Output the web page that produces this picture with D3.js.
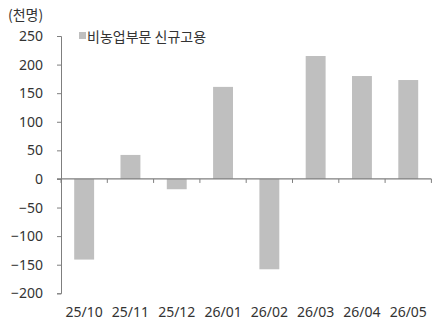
<!DOCTYPE html>
<html><head><meta charset="utf-8">
<script src="https://cdn.jsdelivr.net/npm/d3@7"></script>
<style>
html,body{margin:0;padding:0;background:#fff;}
svg{display:block;font-family:"Noto Sans","Noto Sans CJK KR",sans-serif;}
</style></head>
<body>
<svg id="c" width="432" height="321"></svg>
<script>
const categories = ["25/10","25/11","25/12","26/01","26/02","26/03","26/04","26/05"];
const values = [-141, 42, -18, 161, -158, 215, 180, 173];
const yTicks = [250, 200, 150, 100, 50, 0, -50, -100, -150, -200];
const seriesName = "비농업부문 신규고용";
const unitLabel = "(천명)";

const svg = d3.select("#c");
const plotLeft = 61, plotRight = 431.4, plotTop = 36, plotBottom = 293.3;

const y = d3.scaleLinear().domain([-200, 250]).range([plotBottom, plotTop]);
const x = d3.scaleBand().domain(categories).range([plotLeft, plotRight])
  .paddingInner(0.57).paddingOuter(0.285);
const step = x.step();

// bars
svg.append("g").selectAll("rect").data(values).join("rect")
  .attr("x", (d, i) => x(categories[i]))
  .attr("width", x.bandwidth())
  .attr("y", d => y(Math.max(0, d)))
  .attr("height", d => Math.abs(y(d) - y(0)))
  .attr("fill", "#bfbfbf");

// y axis
const ya = svg.append("g").attr("transform", `translate(${plotLeft},0)`)
  .call(d3.axisLeft(y).tickValues(yTicks).tickSize(4).tickSizeOuter(4).tickPadding(14));
ya.select(".domain").attr("stroke", "#7f7f7f");
ya.selectAll(".tick line").attr("stroke", "#7f7f7f");
ya.selectAll(".tick text").attr("font-size", 14).attr("fill", "#333")
  .attr("font-family", '"Noto Sans",sans-serif');

// zero line with category boundary ticks
const y0 = y(0);
svg.append("line").attr("x1", plotLeft - 4).attr("x2", plotRight)
  .attr("y1", y0).attr("y2", y0).attr("stroke", "#7f7f7f").attr("stroke-width", 1.3);
svg.append("g").selectAll("line").data(d3.range(categories.length + 1)).join("line")
  .attr("x1", i => plotLeft + i * step).attr("x2", i => plotLeft + i * step)
  .attr("y1", y0).attr("y2", y0 + 4)
  .attr("stroke", "#7f7f7f");

// x labels at bottom
svg.append("g").selectAll("text").data(categories).join("text")
  .attr("x", d => x(d) + x.bandwidth() / 2)
  .attr("y", 317)
  .attr("text-anchor", "middle")
  .attr("font-size", 14)
  .attr("fill", "#333")
  .text(d => d);

// unit label
svg.append("text").attr("x", 8).attr("y", 20)
  .attr("font-size", 14).attr("fill", "#333")
  .attr("font-family", '"Noto Sans CJK KR",sans-serif')
  .text(unitLabel);

// legend
svg.append("rect").attr("x", 79).attr("y", 32).attr("width", 7).attr("height", 7)
  .attr("fill", "#bfbfbf");
svg.append("text").attr("x", 87).attr("y", 41.5)
  .attr("font-size", 14).attr("fill", "#333")
  .attr("font-family", '"Noto Sans CJK KR",sans-serif')
  .text(seriesName);
</script>
</body></html>
